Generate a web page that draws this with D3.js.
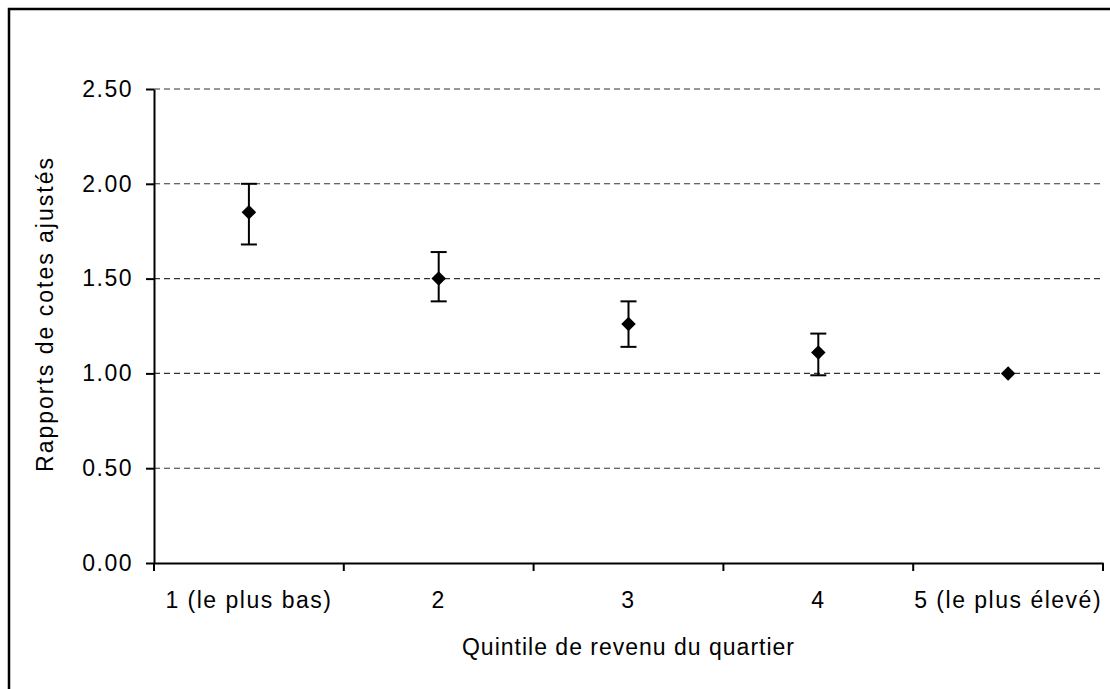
<!DOCTYPE html>
<html>
<head>
<meta charset="utf-8">
<script src="https://cdn.jsdelivr.net/npm/d3@7"></script>
<style>
    body { margin: 0; background: #fff; }
    svg text { font-family: "Liberation Sans", Arial, sans-serif; }
</style>
</head>
<body>
<svg id="chart"></svg>
<script>
var width = 1110,
    height = 689,
    margin = {top: 89, right: 7, bottom: 126, left: 154};

// quintiles and adjusted odds ratios with their 95% intervals
var categories = ["1 (le plus bas)", "2", "3", "4", "5 (le plus élevé)"];
var oddsRatios = [1.85, 1.50, 1.26, 1.11, 1.00];
var ciLower = [1.68, 1.38, 1.14, 0.99, null];
var ciUpper = [2.00, 1.64, 1.38, 1.21, null];
var yTicks = [0, 0.5, 1, 1.5, 2, 2.5];

var data = categories.map((c, i) => ({
    name: c, value: oddsRatios[i], lo: ciLower[i], hi: ciUpper[i]
}));

var svg = d3.select("#chart")
    .attr("width", width)
    .attr("height", height);

// outer frame (right and bottom edges fall outside the picture)
svg.append("rect")
    .attr("x", 9)
    .attr("y", 9)
    .attr("width", width + 20)
    .attr("height", height + 20)
    .attr("fill", "none")
    .attr("stroke", "#000")
    .attr("stroke-width", 2.5);

var x = d3.scaleBand()
    .domain(categories)
    .range([margin.left, width - margin.right])
    .padding(0);

var y = d3.scaleLinear()
    .domain([0, 2.5])
    .range([height - margin.bottom, margin.top]);

// gridlines
svg.append("g")
    .selectAll("line")
    .data(yTicks.filter(d => d > 0))
    .join("line")
    .attr("x1", margin.left)
    .attr("x2", width - margin.right)
    .attr("y1", d => y(d))
    .attr("y2", d => y(d))
    .attr("stroke", "#333")
    .attr("stroke-width", 1.1)
    .attr("stroke-dasharray", "6,4");

// y axis
svg.append("g")
    .attr("transform", `translate(${margin.left}, 0)`)
    .call(d3.axisLeft(y)
        .tickValues(yTicks)
        .tickFormat(d3.format(".2f"))
        .tickSize(8)
        .tickSizeOuter(0)
        .tickPadding(13));

// x axis: labels centred in bands, ticks on band edges
var xAxis = svg.append("g")
    .attr("transform", `translate(0, ${height - margin.bottom})`)
    .call(d3.axisBottom(x).tickSize(0).tickPadding(29));

xAxis.selectAll(".tickEdge")
    .data(categories.map(c => x(c)).concat([x.range()[1]]))
    .join("line")
    .attr("class", "tickEdge")
    .attr("x1", d => d)
    .attr("x2", d => d)
    .attr("y1", 0)
    .attr("y2", 8)
    .attr("stroke", "#000")
    .attr("stroke-width", 2);

svg.selectAll(".domain, .tick line")
    .attr("stroke", "#000")
    .attr("stroke-width", 2);

svg.selectAll(".tick text")
    .attr("fill", "#000")
    .style("font-size", "23px")
    .style("letter-spacing", "1.5px");

// error bars
var bars = svg.append("g")
    .selectAll("g")
    .data(data.filter(d => d.lo != null))
    .join("g")
    .attr("stroke", "#000")
    .attr("stroke-width", 2);

bars.append("line")
    .attr("x1", d => x(d.name) + x.bandwidth() / 2)
    .attr("x2", d => x(d.name) + x.bandwidth() / 2)
    .attr("y1", d => y(d.lo))
    .attr("y2", d => y(d.hi));

bars.selectAll(".cap")
    .data(d => [d.lo, d.hi].map(v => ({name: d.name, v: v})))
    .join("line")
    .attr("class", "cap")
    .attr("x1", d => x(d.name) + x.bandwidth() / 2 - 8)
    .attr("x2", d => x(d.name) + x.bandwidth() / 2 + 8)
    .attr("y1", d => y(d.v))
    .attr("y2", d => y(d.v));

// diamond markers
svg.append("g")
    .selectAll("path")
    .data(data)
    .join("path")
    .attr("d", d3.symbol(d3.symbolSquare, 105))
    .attr("transform", d => `translate(${x(d.name) + x.bandwidth() / 2}, ${y(d.value)}) rotate(45)`)
    .attr("fill", "#000");

// axis titles
svg.append("text")
    .attr("transform", `translate(${(margin.left + width - margin.right) / 2}, 655)`)
    .style("text-anchor", "middle")
    .style("font-size", "23px")
    .style("letter-spacing", "1px")
    .text("Quintile de revenu du quartier");

svg.append("text")
    .attr("transform", `translate(53, ${(y(0) + y(2.5)) / 2 - 12}) rotate(-90)`)
    .style("text-anchor", "middle")
    .style("font-size", "23px")
    .style("letter-spacing", "2px")
    .text("Rapports de cotes ajustés");
</script>
</body>
</html>
